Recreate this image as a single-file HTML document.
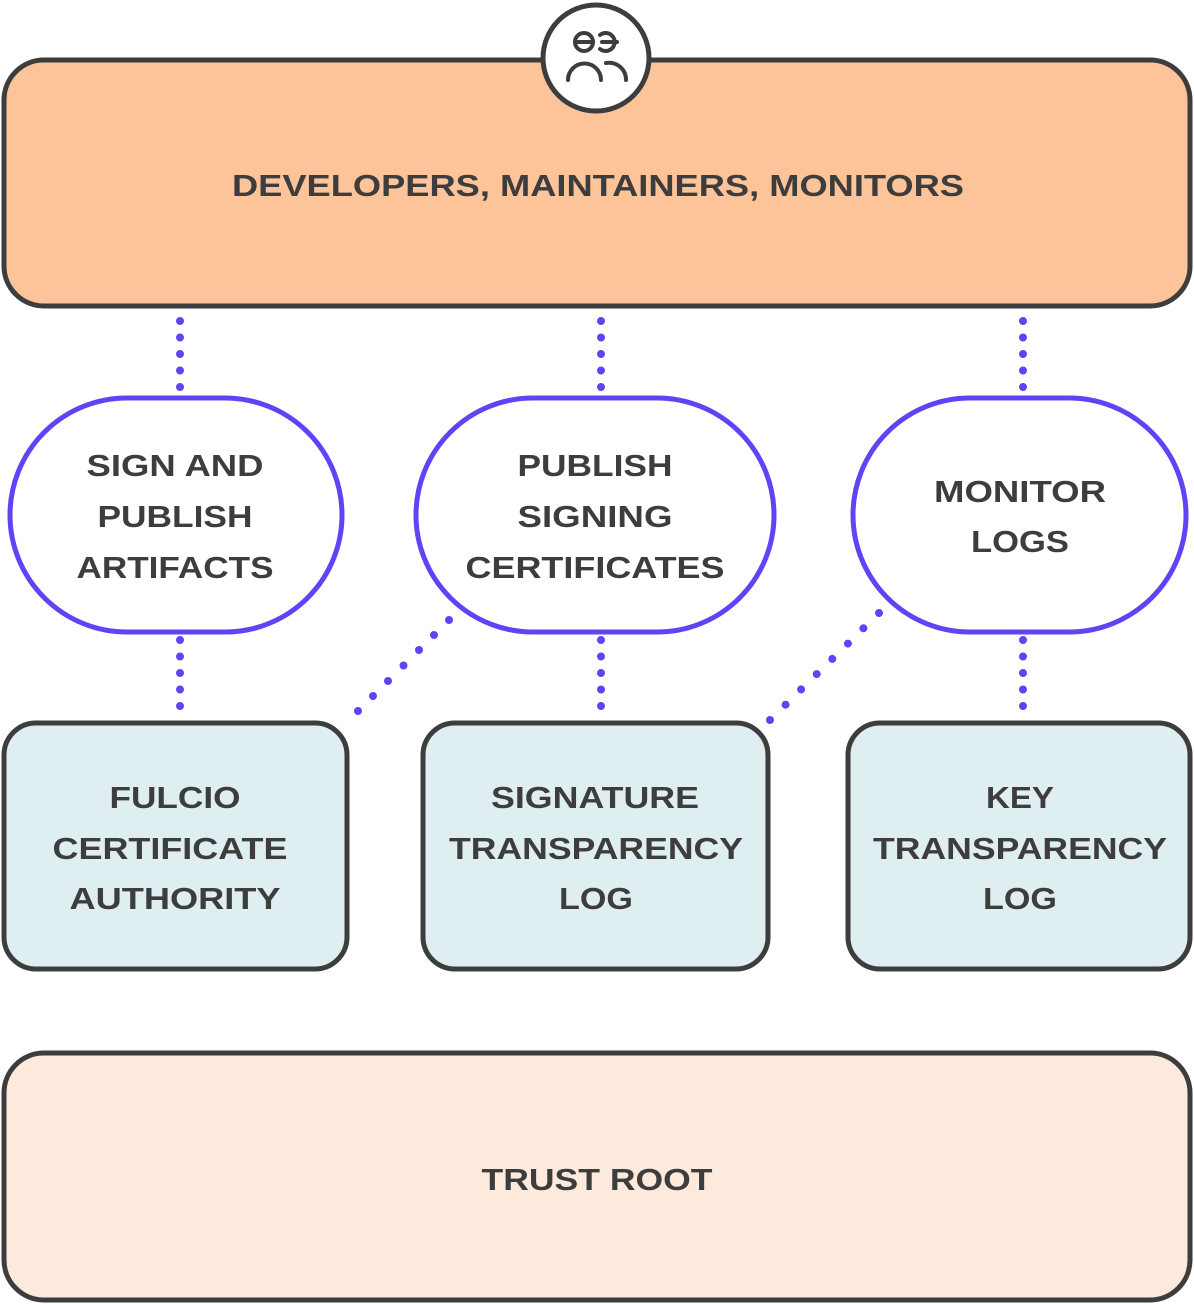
<!DOCTYPE html>
<html><head><meta charset="utf-8"><style>html,body{margin:0;padding:0;background:#fff}svg{display:block}</style></head>
<body>
<svg width="1194" height="1304" viewBox="0 0 1194 1304" xmlns="http://www.w3.org/2000/svg" font-family="Liberation Sans, sans-serif" font-weight="bold" font-size="31" fill="#3d3d3d">
<defs>
<style>.d{stroke:#6043f5;stroke-width:8;stroke-linecap:round;stroke-dasharray:0 16.5;fill:none}</style>
</defs>
<rect x="4" y="60" width="1186" height="246" rx="40" fill="#fdc49a" stroke="#3d3d3d" stroke-width="5"/>
<rect x="4" y="1053" width="1186" height="247" rx="40" fill="#feeadc" stroke="#3d3d3d" stroke-width="5"/>
<g fill="#dfeef1" stroke="#3d3d3d" stroke-width="5">
<rect x="4" y="723" width="343" height="246" rx="32"/>
<rect x="423" y="723" width="345" height="246" rx="32"/>
<rect x="848" y="723" width="342" height="246" rx="32"/>
</g>
<g fill="#fff" stroke="#6043f5" stroke-width="5">
<rect x="10" y="398" width="332" height="234" rx="117"/>
<rect x="416" y="398" width="358" height="234" rx="117"/>
<rect x="853" y="398" width="333" height="234" rx="117"/>
</g>
<g class="d">
<line x1="180" y1="321" x2="180" y2="388"/>
<line x1="601" y1="321" x2="601" y2="388"/>
<line x1="1023" y1="321" x2="1023" y2="388"/>
<line x1="180" y1="640" x2="180" y2="707"/>
<line x1="601" y1="640" x2="601" y2="707"/>
<line x1="1023" y1="640" x2="1023" y2="707"/>
</g>
<g fill="#6043f5">
<circle cx="449" cy="620" r="4"/><circle cx="434" cy="635" r="4"/><circle cx="419" cy="650" r="4"/><circle cx="403.5" cy="665.5" r="4"/><circle cx="388" cy="681" r="4"/><circle cx="373" cy="696" r="4"/><circle cx="358" cy="711" r="4"/>
<circle cx="879" cy="613" r="4"/><circle cx="863.4" cy="628.3" r="4"/><circle cx="847.9" cy="643.6" r="4"/><circle cx="832.3" cy="658.9" r="4"/><circle cx="816.7" cy="674.1" r="4"/><circle cx="801.1" cy="689.4" r="4"/><circle cx="785.6" cy="704.7" r="4"/><circle cx="770" cy="720" r="4"/>
</g>
<circle cx="596" cy="58" r="53" fill="#fff" stroke="#3d3d3d" stroke-width="5"/>
<g fill="none" stroke="#3d3d3d" stroke-width="4" stroke-linecap="round">
<circle cx="584" cy="42" r="9"/><line x1="575" y1="42" x2="593" y2="42"/>
<path d="M600 35 A9 9 0 1 1 600 49"/><line x1="602" y1="42" x2="617" y2="42"/>
<path d="M568 80 A16 16 0 0 1 601 80"/>
<path d="M606 63 A17 17 0 0 1 626 80"/>
</g>
<g text-anchor="middle">
<text x="598" y="196" textLength="732" lengthAdjust="spacingAndGlyphs">DEVELOPERS, MAINTAINERS, MONITORS</text>
<text x="175" y="476" textLength="177" lengthAdjust="spacingAndGlyphs">SIGN AND</text>
<text x="175" y="527" textLength="155" lengthAdjust="spacingAndGlyphs">PUBLISH</text>
<text x="175" y="578" textLength="197" lengthAdjust="spacingAndGlyphs">ARTIFACTS</text>
<text x="595" y="476" textLength="155" lengthAdjust="spacingAndGlyphs">PUBLISH</text>
<text x="595" y="527" textLength="155" lengthAdjust="spacingAndGlyphs">SIGNING</text>
<text x="595" y="578" textLength="259" lengthAdjust="spacingAndGlyphs">CERTIFICATES</text>
<text x="1020" y="502" textLength="172" lengthAdjust="spacingAndGlyphs">MONITOR</text>
<text x="1020" y="552" textLength="98" lengthAdjust="spacingAndGlyphs">LOGS</text>
<text x="175" y="808" textLength="131" lengthAdjust="spacingAndGlyphs">FULCIO</text>
<text x="170" y="859" textLength="235" lengthAdjust="spacingAndGlyphs">CERTIFICATE</text>
<text x="175" y="909" textLength="211" lengthAdjust="spacingAndGlyphs">AUTHORITY</text>
<text x="595" y="808" textLength="208" lengthAdjust="spacingAndGlyphs">SIGNATURE</text>
<text x="596" y="859" textLength="294" lengthAdjust="spacingAndGlyphs">TRANSPARENCY</text>
<text x="596" y="909" textLength="74" lengthAdjust="spacingAndGlyphs">LOG</text>
<text x="1020" y="808" textLength="68" lengthAdjust="spacingAndGlyphs">KEY</text>
<text x="1020" y="859" textLength="294" lengthAdjust="spacingAndGlyphs">TRANSPARENCY</text>
<text x="1020" y="909" textLength="74" lengthAdjust="spacingAndGlyphs">LOG</text>
<text x="597" y="1190" textLength="231" lengthAdjust="spacingAndGlyphs">TRUST ROOT</text>
</g>
</svg>
</body></html>
